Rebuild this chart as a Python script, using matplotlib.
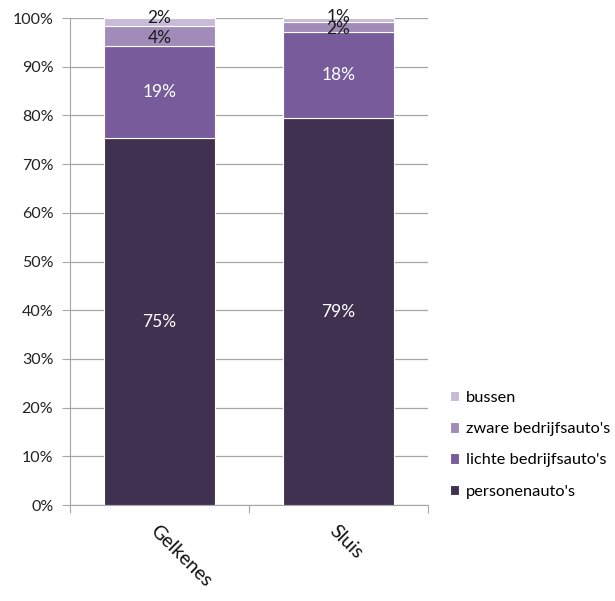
import matplotlib.pyplot as plt

plt.rcParams['font.family'] = ['Lato', 'DejaVu Sans']

# Data
locaties = ['Gelkenes', 'Sluis']
personenautos = [75.3, 79.4]
lichte = [19.0, 17.7]
zware = [4.1, 2.0]
bussen = [1.6, 0.9]
labels_pers = ['75%', '79%']
labels_lichte = ['19%', '18%']
labels_zware = ['4%', '2%']
labels_bussen = ['2%', '1%']

# naam, waarden, labels, kleur, tekstkleur, verschuiving label (pt)
series = [
    ("personenauto's", personenautos, labels_pers, '#403151', 'white', 0),
    ("lichte bedrijfsauto's", lichte, labels_lichte, '#775b9b', 'white', 0),
    ("zware bedrijfsauto's", zware, labels_zware, '#a08bb9', '#1a1a1a', -1.5),
    ('bussen', bussen, labels_bussen, '#c7bbd7', '#1a1a1a', 2.5),
]

fig = plt.figure(figsize=(6.15, 6.01), dpi=100)
ax = fig.add_axes([0.1138, 0.1597, 0.582, 0.8103])

x = list(range(len(locaties)))
bottom = [0.0] * len(locaties)
handles = []
for naam, vals, labs, kleur, tkleur, dy in series:
    b = ax.bar(x, vals, 0.625, bottom=bottom, color=kleur, edgecolor='white',
               linewidth=0.8, label=naam, zorder=3)
    handles.append(b)
    for xi, v, bo, lab in zip(x, vals, bottom, labs):
        ax.annotate(lab, (xi, bo + v / 2), xytext=(0, dy), textcoords='offset points',
                    ha='center', va='center', color=tkleur, fontsize=12.5, zorder=4)
    bottom = [bo + v for bo, v in zip(bottom, vals)]

ax.set_xlim(-0.5, 1.5)
ax.set_ylim(0, 100)
ax.set_yticks(range(0, 101, 10))
ax.set_yticklabels([f'{t}%' for t in range(0, 101, 10)], fontsize=11.5, color='#222222')
ax.yaxis.grid(True, color='#a6a6a6', linewidth=0.9, zorder=0)

ax.set_xticks([-0.5, 0.5, 1.5])
ax.set_xticklabels([])
ax.set_xticks(x, minor=True)
ax.set_xticklabels(locaties, minor=True, rotation=-45, ha='left',
                   rotation_mode='anchor', fontsize=14, color='#111111')
ax.tick_params(axis='x', which='minor', length=0, pad=12)
ax.tick_params(axis='x', which='major', length=6, color='#a6a6a6')
ax.tick_params(axis='y', length=6, color='#a6a6a6', pad=6)

for s in ['top', 'right']:
    ax.spines[s].set_visible(False)
ax.spines['left'].set_color('#a6a6a6')
ax.spines['bottom'].set_color('#a6a6a6')

fig.legend(handles[::-1], [s[0] for s in series][::-1], loc='center left',
           bbox_to_anchor=(0.731, 0.26), frameon=False, fontsize=11.8,
           handlelength=0.6, handleheight=0.6, handletextpad=0.4,
           labelspacing=1.05, borderpad=0, borderaxespad=0)

fig.savefig('out.png', dpi=100)
